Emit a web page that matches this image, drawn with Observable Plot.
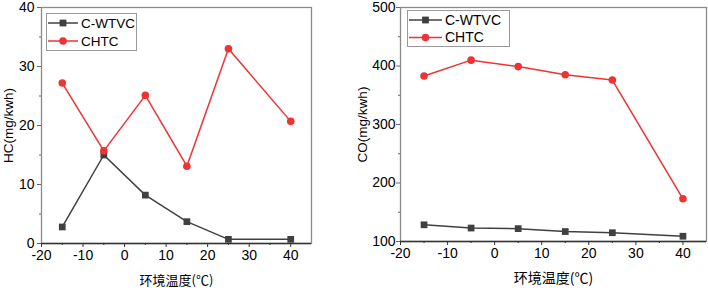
<!DOCTYPE html>
<html>
<head>
<meta charset="utf-8">
<script src="https://cdn.jsdelivr.net/npm/d3@7"></script>
<script src="https://cdn.jsdelivr.net/npm/@observablehq/plot@0.6"></script>
<style>
  html, body { margin: 0; padding: 0; background: #fff; }
  #wrap { position: relative; width: 708px; height: 290px; overflow: hidden; }
  .panel { position: absolute; top: 0; }
  .legend { position: absolute; }
</style>
</head>
<body>
<div id="wrap"></div>
<script>
// ---- data ----
const temps = [-15, -5, 5, 15, 25, 40];
const seriesNames = ["C-WTVC", "CHTC"];
const hcWTVC = [2.8, 15.0, 8.2, 3.7, 0.7, 0.7];
const hcCHTC = [27.2, 15.7, 25.1, 13.1, 33.0, 20.7];
const coWTVC = [128.5, 123, 122, 117, 115, 109];
const coCHTC = [383, 410, 399, 385, 376, 173];
const xTicks = [-20, -10, 0, 10, 20, 30, 40];
const xMinor = [-15, -5, 5, 15, 25, 35];
const hcTicks = [0, 10, 20, 30, 40];
const hcMinor = [5, 15, 25, 35];
const coTicks = [100, 200, 300, 400, 500];
const coMinor = [150, 250, 350, 450];
const xLabel = "环境温度(℃)";
const hcLabel = "HC(mg/kwh)";
const coLabel = "CO(mg/kwh)";
const colors = ["#404040", "#ee3333"];

function longData(a, b) {
  const out = [];
  temps.forEach((t, i) => out.push({t, v: a[i], s: seriesNames[0]}));
  temps.forEach((t, i) => out.push({t, v: b[i], s: seriesNames[1]}));
  return out;
}

const fmt = d => String(d);

function panel(opts) {
  const data = longData(opts.a, opts.b);
  const svg = Plot.plot({
    width: 354,
    height: 290,
    marginLeft: opts.ml,
    marginRight: opts.mr,
    marginTop: opts.mt,
    marginBottom: opts.mb,
    style: {fontFamily: "'Liberation Sans', Arial, sans-serif", fontSize: "13px", color: "#000", background: "#fff"},
    x: {domain: [-20, 45]},
    y: {domain: opts.yDomain},
    color: {domain: seriesNames, range: colors},
    symbol: {domain: seriesNames, range: ["square", "circle"]},
    marks: [
      Plot.frame({stroke: "#8a8a8a", strokeWidth: 1.3}),
      Plot.ruleY([opts.yDomain[0]], {stroke: "#333", strokeWidth: 1.3}),
      Plot.axisX({ticks: xTicks, tickFormat: fmt, tickSize: 4, tickPadding: 3, stroke: "#333",
        label: xLabel, labelAnchor: "center", labelArrow: "none", labelOffset: opts.xlo}),
      Plot.axisX({ticks: xMinor, tickSize: 2, text: null, label: null, stroke: "#333"}),
      Plot.axisY({ticks: opts.yTicks, tickFormat: fmt, tickSize: 4, tickPadding: opts.ytp, stroke: "#666",
        label: opts.yLabel, labelAnchor: "center", labelArrow: "none", labelOffset: opts.ylo}),
      Plot.axisY({ticks: opts.yMinor, tickSize: 2, text: null, label: null, stroke: "#666"}),
      Plot.line(data, {x: "t", y: "v", z: "s", stroke: "s", strokeWidth: 1.5}),
      Plot.dot(data, {x: "t", y: "v", fill: "s", symbol: "s", r: 3.8, stroke: "none"})
    ]
  });
  const s = d3.select(svg);
  s.selectAll("[aria-label='x-axis tick label'], [aria-label='y-axis tick label']")
    .attr("font-size", "14px");
  s.selectAll("[aria-label='x-axis label'] text")
    .attr("font-family", "'Noto Sans CJK SC', sans-serif")
    .attr("font-size", opts.xfs);
  s.selectAll("[aria-label='x-axis label']").attr("font-size", opts.xfs);
  s.selectAll("[aria-label='y-axis label']").attr("font-size", "13.5px");
  return svg;
}

function legend(left, top, w, h, rowY, lineW, fs) {
  const div = document.createElement("div");
  div.className = "legend";
  div.style.left = left + "px";
  div.style.top = top + "px";
  const svg = d3.create("svg").attr("width", w).attr("height", h)
    .style("font-family", "'Liberation Sans', Arial, sans-serif").style("font-size", fs + "px");
  svg.append("rect").attr("x", 0.5).attr("y", 0.5).attr("width", w - 1).attr("height", h - 1)
    .attr("fill", "#fff").attr("stroke", "#999");
  seriesNames.forEach((name, i) => {
    const y = rowY[i];
    svg.append("line").attr("x1", 2).attr("x2", 2 + lineW).attr("y1", y).attr("y2", y)
      .attr("stroke", colors[i]).attr("stroke-width", 1.5);
    const cx = 2 + lineW / 2;
    if (i === 0) {
      svg.append("rect").attr("x", cx - 3.4).attr("y", y - 3.4).attr("width", 6.8).attr("height", 6.8).attr("fill", colors[i]);
    } else {
      svg.append("circle").attr("cx", cx).attr("cy", y).attr("r", 3.8).attr("fill", colors[i]);
    }
    svg.append("text").attr("x", lineW + 5).attr("y", y).attr("dy", "0.35em").text(name);
  });
  div.appendChild(svg.node());
  return div;
}

const wrap = document.getElementById("wrap");
const p1 = panel({a: hcWTVC, b: hcCHTC, yDomain: [0, 40], yTicks: hcTicks, yMinor: hcMinor, yLabel: hcLabel,
  ml: 41, mr: 43, mt: 7, mb: 47, ytp: 3, ylo: 38, xlo: 41, xfs: "13px"});
const d1 = document.createElement("div"); d1.className = "panel"; d1.style.left = "0px"; d1.appendChild(p1);
wrap.appendChild(d1);
const p2 = panel({a: coWTVC, b: coCHTC, yDomain: [100, 500], yTicks: coTicks, yMinor: coMinor, yLabel: coLabel,
  ml: 46, mr: 2, mt: 7, mb: 49, ytp: 1, ylo: 43, xlo: 41, xfs: "14px"});
const d2 = document.createElement("div"); d2.className = "panel"; d2.style.left = "354px"; d2.appendChild(p2);
wrap.appendChild(d2);

wrap.appendChild(legend(45.5, 13, 91, 38, [10, 28], 30, 13.5));
wrap.appendChild(legend(407, 10, 103, 37, [10, 27.5], 33, 14));
</script>
</body>
</html>
